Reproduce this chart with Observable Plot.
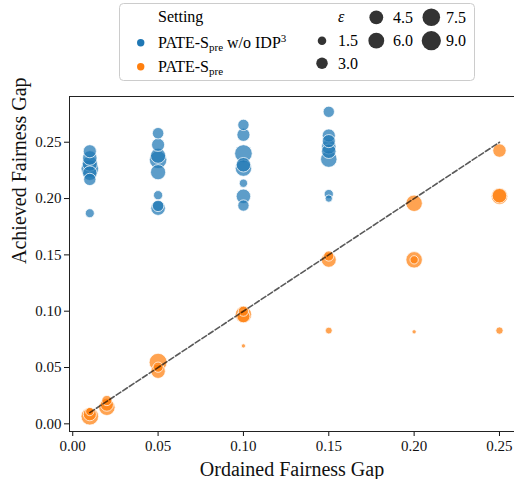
<!DOCTYPE html>
<html><head><meta charset="utf-8">
<script src="https://cdn.jsdelivr.net/npm/d3@7"></script>
<script src="https://cdn.jsdelivr.net/npm/@observablehq/plot@0.6"></script>
<style>
body{margin:0;background:#fff;}
#wrap{position:relative;width:514px;height:479px;overflow:hidden;}
#legend{position:absolute;left:0;top:0;}
#wrap text{font-family:"Liberation Serif", serif;}
</style></head><body><div id="wrap"></div>
<script>
// ---- data ----
const settings = ["PATE-Spre w/o IDP3", "PATE-Spre"];
const colors = ["#1f77b4", "#ff7f0e"];

const blueGap = [0.01,0.01,0.01,0.01,0.01,0.01,0.01,
                 0.05,0.05,0.05,0.05,0.05,0.05,0.05,0.05,
                 0.10,0.10,0.10,0.10,0.10,0.10,0.10,0.10,
                 0.15,0.15,0.15,0.15,0.15,0.15,0.15,0.15];
const blueAchieved = [0.242,0.236,0.231,0.2265,0.2225,0.217,0.187,
                      0.258,0.2477,0.238,0.2344,0.2234,0.203,0.1935,0.1915,
                      0.2654,0.2566,0.240,0.230,0.227,0.2136,0.202,0.1938,
                      0.277,0.256,0.251,0.246,0.242,0.235,0.204,0.200];
const blueEps = [4,5,5.5,7.5,5,3.5,1.7,
                 3,4,5.5,7.5,5.5,1.8,3,5,
                 2.9,4,7.5,5,6.5,1.4,5,2.9,
                 2.9,4,4,5,5,6.5,1.8,1];

const orangeGap = [0.01,0.01,0.01,
                   0.02,0.02,0.02,
                   0.05,0.05,0.05,
                   0.10,0.10,0.10,0.10,
                   0.15,0.15,0.15,
                   0.20,0.20,0.20,0.20,
                   0.25,0.25,0.25,0.25];
const orangeAchieved = [0.0067,0.0085,0.0109,
                        0.0147,0.017,0.0207,
                        0.0547,0.0467,0.0503,
                        0.097,0.0955,0.100,0.0692,
                        0.1456,0.149,0.0828,
                        0.1958,0.1456,0.1456,0.0817,
                        0.2426,0.202,0.2025,0.0828];
const orangeEps = [7.5,4,1.4,
                   6.5,4,2.3,
                   7.8,4.9,2.3,
                   6.5,4,2.3,0.1,
                   5.3,2.3,0.85,
                   6.5,6.5,1.4,0.1,
                   4.2,6.5,5,1];

const xTicks = [0,0.05,0.10,0.15,0.20,0.25];
const yTicks = [0,0.05,0.10,0.15,0.20,0.25];
const sizeTicks = [1.5,3.0,4.5,6.0,7.5,9.0];
const diagonal = [0.01, 0.25];
const xDomain = [-0.0019, 0.2588];
const yDomain = [-0.0068, 0.2906];
const epsOffset = 0.35;

// ---- table ----
const rows = [
  ...blueGap.map((g,i)=>({setting: settings[0], gap: g, achieved: blueAchieved[i], eps: blueEps[i]})),
  ...orangeGap.map((g,i)=>({setting: settings[1], gap: g, achieved: orangeAchieved[i], eps: orangeEps[i]}))
];

const rConf = {type: "sqrt", domain: [0, 9.35], range: [0, 9.6]};
const font = "Liberation Serif";

const chart = Plot.plot({
  width: 514, height: 479,
  marginTop: 96, marginLeft: 69, marginRight: 0, marginBottom: 48,
  style: {fontFamily: font, fontSize: "15px", background: "transparent", color: "#111"},
  x: {domain: xDomain},
  y: {domain: yDomain},
  r: rConf,
  color: {domain: settings, range: colors},
  marks: [
    Plot.axisX({ticks: xTicks, tickFormat: d3.format(".2f"), tickSize: 5, tickPadding: 4, fontSize: 15, fontFamily: font, label: null}),
    Plot.axisY({ticks: yTicks, tickFormat: d3.format(".2f"), tickSize: 5, tickPadding: 3, fontSize: 15, fontFamily: font, label: null}),
    Plot.dot(rows, {x: "gap", y: "achieved", r: d => d.eps + epsOffset, fill: "setting",
      fillOpacity: 0.72, stroke: "white", strokeWidth: 0.75}),
    Plot.line(diagonal.map(v => ({x: v, y: v})), {x: "x", y: "y", stroke: "#000", strokeOpacity: 0.65,
      strokeWidth: 1.6, strokeDasharray: "5.5,2.4"}),
    Plot.ruleX([xDomain[0]], {stroke: "#222"}),
    Plot.ruleY([yDomain[0], yDomain[1]], {stroke: "#222"}),
    Plot.text(["Ordained Fairness Gap"], {text: d => d, frameAnchor: "bottom", lineAnchor: "bottom", dy: 44, fontSize: 20, fontFamily: font}),
    Plot.text(["Achieved Fairness Gap"], {text: d => d, frameAnchor: "left", rotate: -90, lineAnchor: "bottom", dx: -44, fontSize: 20, fontFamily: font})
  ]
});
const wrap = document.getElementById("wrap");
wrap.appendChild(chart);

// ---- legend ----
const rScale = d3.scaleSqrt().domain(rConf.domain).range(rConf.range);
const svg = d3.select(wrap).append("svg").attr("id", "legend")
  .attr("width", 514).attr("height", 90)
  .attr("font-family", font).attr("font-size", 16);
svg.append("rect").attr("x", 119.5).attr("y", 3.5).attr("width", 355).attr("height", 77)
  .attr("rx", 4).attr("fill", "white").attr("fill-opacity", 0.85).attr("stroke", "#cccccc");
svg.append("text").attr("x", 158).attr("y", 21.5).attr("font-family", font).text("Setting");

function settingLabel(x, y, sup) {
  const txt = svg.append("text").attr("x", x).attr("y", y).attr("font-family", font);
  txt.append("tspan").text("PATE-S");
  txt.append("tspan").attr("font-size", 11).attr("dy", 3).text("pre");
  if (sup) {
    txt.append("tspan").attr("dy", -3).text(" w/o IDP");
    txt.append("tspan").attr("font-size", 11).attr("dy", -6.5).text("3");
  }
}
svg.append("circle").attr("cx", 140.7).attr("cy", 42.7).attr("r", 3.7).attr("fill", colors[0]);
settingLabel(158, 48, true);
svg.append("circle").attr("cx", 140.7).attr("cy", 66.7).attr("r", 3.7).attr("fill", colors[1]);
settingLabel(158, 71.5, false);

svg.append("text").attr("x", 338).attr("y", 21.5).attr("font-style", "italic").attr("font-family", font).text("ε");
const cols = [[322, 338], [376.3, 393], [431.3, 446]];
const rowsY = [17.3, 40.7, 63.3];
const slots = [[0,1],[0,2],[1,0],[1,1],[2,0],[2,1]];
sizeTicks.forEach((v, i) => {
  const [c, r] = slots[i];
  const cy = rowsY[r];
  svg.append("circle").attr("cx", cols[c][0]).attr("cy", cy).attr("r", rScale(v + epsOffset)).attr("fill", "#333");
  svg.append("text").attr("x", cols[c][1]).attr("y", cy + 5.2).attr("font-family", font).text(v.toFixed(1));
});
</script></body></html>
